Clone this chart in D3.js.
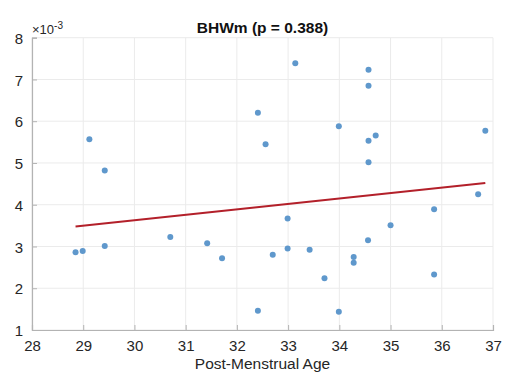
<!DOCTYPE html>
<html><head><meta charset="utf-8">
<script src="https://cdn.jsdelivr.net/npm/d3@7"></script>
<style>body{margin:0;background:#fff}svg{display:block}text{font-family:"Liberation Sans",Arial,sans-serif}</style>
</head><body>
<svg id="c" width="510" height="376"></svg>
<script>
const ageValues = [29.12,29.42,32.41,33.14,34.57,34.57,32.56,33.99,34.71,34.57,34.57,36.85,28.85,28.99,29.42,30.70,31.42,31.71,32.41,32.70,32.99,32.99,33.42,33.71,33.99,34.28,34.28,34.56,35.00,35.85,35.85,36.71];
const bhwValues = [5.57,4.82,6.20,7.39,7.23,6.85,5.45,5.88,5.66,5.53,5.02,5.77,2.86,2.89,3.01,3.23,3.08,2.72,1.46,2.80,3.67,2.95,2.92,2.24,1.44,2.75,2.61,3.15,3.51,3.89,2.33,4.25];
const fitX = [28.85, 36.85];
const fitY = [3.48, 4.52];
const xTicks = [28,29,30,31,32,33,34,35,36,37];
const yTicks = [1,2,3,4,5,6,7,8];
const titleText = "BHWm (p = 0.388)";
const xLabel = "Post-Menstrual Age";

const svg = d3.select("#c");
const x = d3.scaleLinear().domain([28,37]).range([32,493]);
const y = d3.scaleLinear().domain([1,8]).range([330,37.7]);

// grid
svg.append("g").selectAll("line").data(xTicks).join("line")
  .attr("x1",d=>x(d)).attr("x2",d=>x(d)).attr("y1",y(1)).attr("y2",y(8))
  .attr("stroke","#ebebeb").attr("stroke-width",1);
svg.append("g").selectAll("line").data(yTicks).join("line")
  .attr("y1",d=>y(d)).attr("y2",d=>y(d)).attr("x1",x(28)).attr("x2",x(37))
  .attr("stroke","#ebebeb").attr("stroke-width",1);

// axes
const xAxis = d3.axisBottom(x).tickValues(xTicks).tickSize(-5).tickPadding(10).tickFormat(d3.format("d"));
const yAxis = d3.axisLeft(y).tickValues(yTicks).tickSize(-5).tickPadding(9).tickFormat(d3.format("d"));
const gx = svg.append("g").attr("transform",`translate(0,${y(1)})`).call(xAxis);
const gy = svg.append("g").attr("transform",`translate(${x(28)},0)`).call(yAxis);
[gx,gy].forEach(g=>{
  g.select(".domain").attr("stroke","#b3b3b3").attr("stroke-width",1.2);
  g.selectAll(".tick line").attr("stroke","#b3b3b3");
  g.selectAll(".tick text").attr("fill","#262626").style("font-size","15px");
});
gy.selectAll(".tick text").attr("dy","0.38em");

// points
svg.append("g").selectAll("circle").data(ageValues.map((a,i)=>[a,bhwValues[i]])).join("circle")
  .attr("cx",d=>x(d[0])).attr("cy",d=>y(d[1])).attr("r",3)
  .attr("fill","#5f98cc");

// fit line
svg.append("line")
  .attr("x1",x(fitX[0])).attr("y1",y(fitY[0])).attr("x2",x(fitX[1])).attr("y2",y(fitY[1]))
  .attr("stroke","#b3202a").attr("stroke-width",2);

// title
svg.append("text").attr("x",262.5).attr("y",33).attr("text-anchor","middle")
  .style("font-size","15.5px").style("font-weight","bold").attr("fill","#111").text(titleText);
// exponent
const ex = svg.append("text").attr("x",32).attr("y",34).style("font-size","13px").attr("fill","#262626");
ex.append("tspan").text("×10");
ex.append("tspan").attr("dy",-5).style("font-size","10px").text("-3");
// x label
svg.append("text").attr("x",262.5).attr("y",369).attr("text-anchor","middle")
  .style("font-size","15.5px").attr("fill","#262626").text(xLabel);
</script>
</body></html>
